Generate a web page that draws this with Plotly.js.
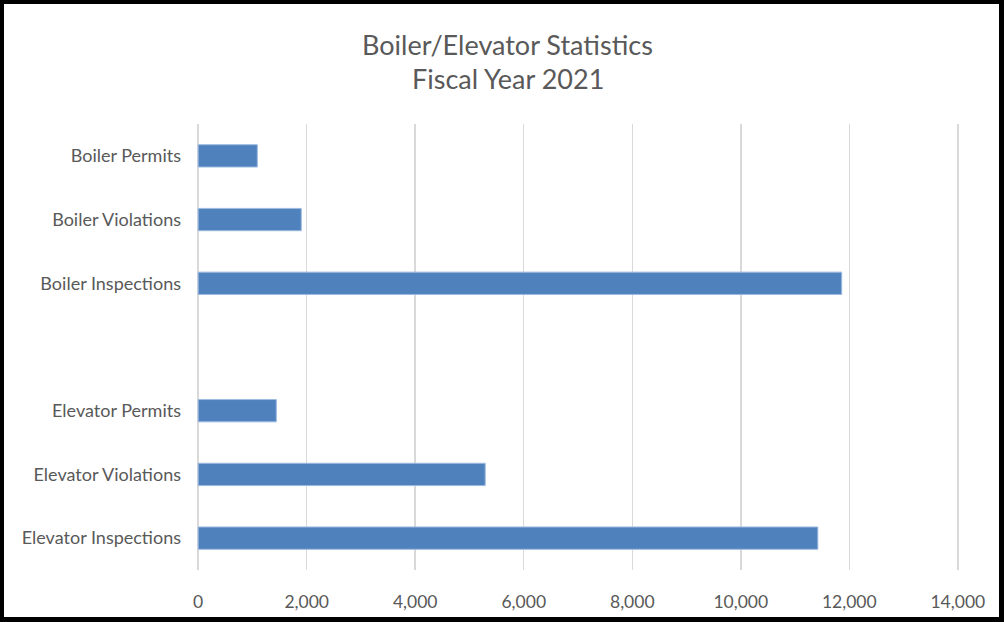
<!DOCTYPE html>
<html>
<head>
<meta charset="utf-8">
<script src="https://cdn.plot.ly/plotly-3.0.1.min.js"></script>
<style>
  html, body { margin: 0; padding: 0; background: #fff; }
  #wrap { position: relative; width: 1004px; height: 622px; }
  #chart { position: absolute; left: 0; top: 0; width: 1004px; height: 622px; }
  #frame { position: absolute; left: 0; top: 0; width: 1004px; height: 622px; box-sizing: border-box;
           border-top: 4px solid #000; border-left: 4px solid #000; border-right: 5px solid #000; border-bottom: 5px solid #000;
           pointer-events: none; }
</style>
</head>
<body>
<div id="wrap">
  <div id="chart"></div>
  <div id="frame"></div>
</div>
<script>
const categories = ['Boiler Permits', 'Boiler Violations', 'Boiler Inspections', ' ',
                    'Elevator Permits', 'Elevator Violations', 'Elevator Inspections'];
const values = [1090, 1900, 11860, null, 1440, 5290, 11420];
const xTickValues = [0, 2000, 4000, 6000, 8000, 10000, 12000, 14000];
const titleLines = ['Boiler/Elevator Statistics', 'Fiscal Year 2021'];

const FONT = 'Lato, "Open Sans", sans-serif';
const TXT = '#595959';

const trace = {
  type: 'bar',
  orientation: 'h',
  x: values,
  y: categories,
  marker: { color: '#4f81bd', line: { color: '#9dbae0', width: 1 } },
  hoverinfo: 'x+y'
};

const titleY = [1.179, 1.101];
const annotations = titleLines.map((t, i) => ({
  text: t,
  xref: 'paper', yref: 'paper',
  x: 0.408, y: titleY[i],
  xanchor: 'center', yanchor: 'middle',
  showarrow: false,
  font: { family: FONT, size: 27, color: TXT }
}));

const layout = {
  width: 1004,
  height: 622,
  paper_bgcolor: '#ffffff',
  plot_bgcolor: '#ffffff',
  margin: { l: 196, r: 44, t: 124, b: 52 },
  showlegend: false,
  bargap: 0.65,
  font: { family: FONT, color: TXT, size: 18 },
  annotations: annotations,
  xaxis: {
    range: [-40, 14040],
    tickvals: xTickValues,
    tickformat: ',d',
    showgrid: true,
    gridcolor: '#d9d9d9',
    gridwidth: 1.5,
    zeroline: false,
    showline: false,
    ticks: '',
    ticklabelstandoff: 19,
    tickfont: { family: FONT, size: 17.5, color: TXT },
    fixedrange: true
  },
  yaxis: {
    type: 'category',
    categoryorder: 'array',
    categoryarray: categories,
    autorange: 'reversed',
    showgrid: false,
    zeroline: false,
    showline: false,
    ticks: '',
    ticklabelstandoff: 14,
    tickfont: { family: FONT, size: 18, color: TXT },
    fixedrange: true
  }
};

Plotly.newPlot('chart', [trace], layout, { displayModeBar: false, staticPlot: true });
</script>
</body>
</html>
